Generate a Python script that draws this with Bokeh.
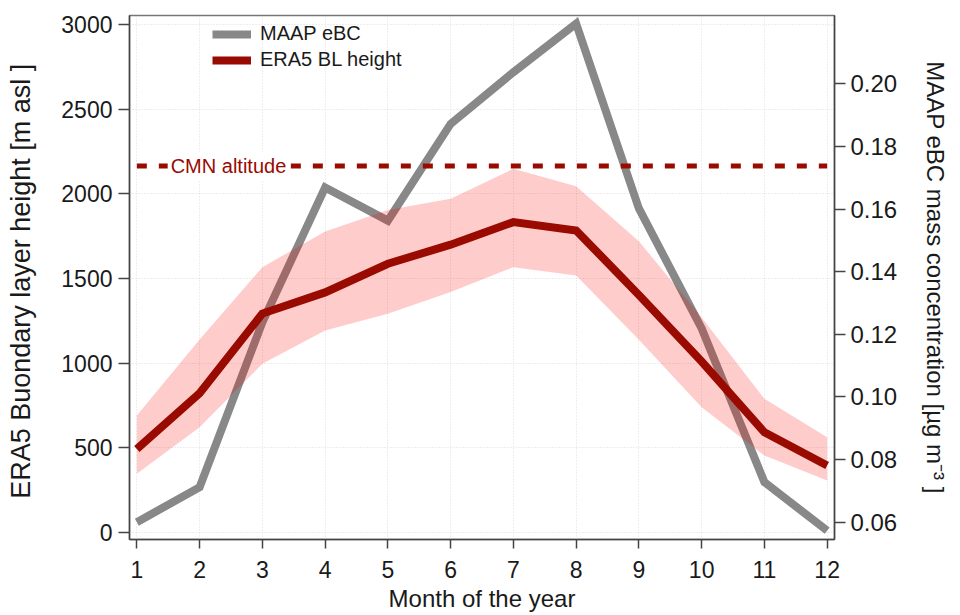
from bokeh.plotting import figure
from bokeh.models import Range1d, LinearAxis, Label, Legend, LegendItem, FixedTicker, PrintfTickFormatter
from bokeh.embed import file_html
from bokeh.resources import INLINE

# ---- data ----
months = [1, 2, 3, 4, 5, 6, 7, 8, 9, 10, 11, 12]
maap_ebc = [0.0600, 0.0712, 0.1238, 0.1669, 0.1563, 0.1872, 0.2037, 0.2192, 0.1602, 0.1219, 0.0728, 0.0573]
bl_height = [494, 823, 1293, 1418, 1587, 1700, 1833, 1784, 1403, 1010, 592, 396]
bl_upper = [691, 1140, 1567, 1778, 1905, 1971, 2148, 2045, 1720, 1270, 790, 563]
bl_lower = [347, 622, 996, 1193, 1292, 1420, 1567, 1518, 1138, 740, 455, 307]
cmn_altitude = 2165
cmn_label = "CMN altitude"
left_ticks = [0, 500, 1000, 1500, 2000, 2500, 3000]
right_ticks = [0.06, 0.08, 0.10, 0.12, 0.14, 0.16, 0.18, 0.20]

FONT = "Liberation Sans"
GREY = "#888888"
DARKRED = "#990a00"
TXT = "#1a1a1a"

p = figure(width=960, height=615, output_backend="svg", toolbar_location=None,
           x_range=Range1d(0.883, 12.117), y_range=Range1d(-41, 3053),
           min_border_left=129, min_border_right=126, min_border_top=15, min_border_bottom=76,
           frame_width=705, frame_height=524)
p.extra_y_ranges = {"ebc": Range1d(0.05448, 0.22181)}

p.outline_line_color = "#777777"
p.outline_line_width = 1.5
p.background_fill_color = "white"
p.border_fill_color = "white"

# grids
for g in (p.xgrid, p.ygrid):
    g.grid_line_color = "#dcdcdc"
    g.grid_line_dash = "1 2"
    g.grid_line_width = 1

# axes
p.xaxis.ticker = FixedTicker(ticks=months)
p.yaxis.ticker = FixedTicker(ticks=left_ticks)
p.xaxis.axis_label = "Month of the year"
p.yaxis.axis_label = "ERA5 Buondary layer height  [m asl ]"

right = LinearAxis(y_range_name="ebc", ticker=FixedTicker(ticks=right_ticks),
                   formatter=PrintfTickFormatter(format="%.2f"),
                   axis_label="MAAP eBC mass concentration [µg m⁻³ ]")
p.add_layout(right, "right")

for ax in (p.xaxis[0], p.yaxis[0], right):
    ax.axis_line_color = "#444444"
    ax.axis_line_width = 1.5
    ax.major_tick_line_color = "#444444"
    ax.major_tick_line_width = 1.5
    ax.major_tick_in = 0
    ax.major_tick_out = 11
    ax.minor_tick_line_color = None
    ax.major_label_text_font = FONT
    ax.major_label_text_font_size = "23px"
    ax.major_label_text_color = TXT
    ax.axis_label_text_font = FONT
    ax.axis_label_text_font_style = "normal"
    ax.axis_label_text_color = TXT

p.xaxis.major_tick_out = 9
p.xaxis.major_label_standoff = 12
p.xaxis.axis_label_text_font_size = "24px"
p.xaxis.axis_label_standoff = 4
p.yaxis.major_label_standoff = 6
p.yaxis.axis_label_text_font_size = "27px"
p.yaxis.axis_label_standoff = 22
right.major_label_text_font_size = "24px"
right.major_label_standoff = 5
right.axis_label_text_font_size = "24px"
right.axis_label_standoff = 22

# glyphs
r_ebc = p.line(months, maap_ebc, y_range_name="ebc", line_color=GREY, line_width=8, line_join="miter")
p.varea(x=months, y1=bl_lower, y2=bl_upper, fill_color="#ff0000", fill_alpha=0.2)
p.line([months[0], months[-1]], [cmn_altitude, cmn_altitude], line_color=DARKRED,
       line_width=5, line_dash="10 12")
r_bl = p.line(months, bl_height, line_color=DARKRED, line_width=8, line_join="miter")

lbl = Label(x=2.46, y=cmn_altitude, text=cmn_label, text_align="center", text_baseline="middle",
            text_font=FONT, text_font_size="20px", text_color=DARKRED,
            background_fill_color="white", padding=3)
p.add_layout(lbl)

legend = Legend(items=[LegendItem(label="MAAP eBC", renderers=[r_ebc]),
                       LegendItem(label="ERA5 BL height", renderers=[r_bl])],
                location=(83, 468), background_fill_alpha=0, border_line_color=None,
                label_text_font=FONT, label_text_font_size="20px", label_text_color=TXT,
                glyph_width=39, glyph_height=20, label_height=20, spacing=3,
                padding=0, margin=0, label_standoff=9)
p.add_layout(legend)

open("out.html", "w").write(file_html(p, INLINE))
